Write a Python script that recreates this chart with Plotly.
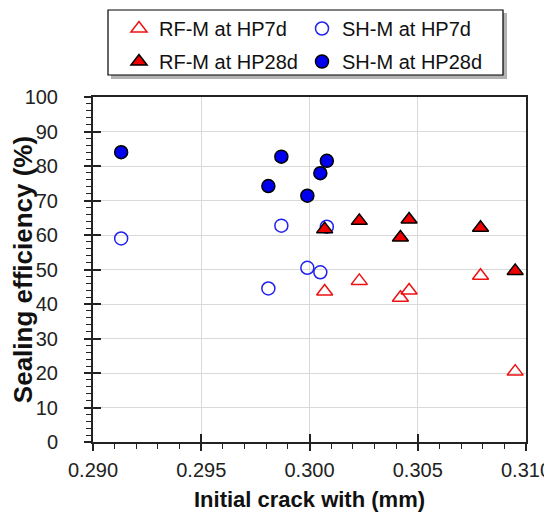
import plotly.graph_objects as go

# RF-M specimens
rf_x = [0.3007, 0.3023, 0.3046, 0.3042, 0.3079, 0.3095]
rf_7d = [43.6, 46.7, 43.9, 41.8, 48.2, 20.4]
rf_28d = [61.7, 64.1, 64.5, 59.3, 62.1, 49.6]

# SH-M specimens
sh_x = [0.2913, 0.2987, 0.3008, 0.2999, 0.3005, 0.2981]
sh_7d = [59.0, 62.7, 62.4, 50.5, 49.2, 44.5]
sh_28d = [84.0, 82.7, 81.5, 71.4, 77.9, 74.2]

x_ticks = [0.290, 0.295, 0.300, 0.305, 0.310]
y_ticks = [0, 10, 20, 30, 40, 50, 60, 70, 80, 90, 100]

RED = "#EE1111"
BLUE = "#2222EE"

OFF = 8  # default page body margin
W, H = 552 - OFF, 515 - OFF
L, T = 93 - OFF, 97 - OFF
R = W - (526 - OFF)
B = H - (442 - OFF)
PW, PH = W - L - R, H - T - B


def px_x(p):
    return (p - OFF - L) / PW


def px_y(p):
    return (H - B - (p - OFF)) / PH


fig = go.Figure()
fig.add_trace(go.Scatter(x=rf_x, y=rf_7d, mode="markers", name="RF-M at HP7d",
                         legend="legend", legendgroup="a",
                         marker=dict(symbol="triangle-up-open", size=14, color=RED,
                                     line=dict(color=RED, width=1.5))))
fig.add_trace(go.Scatter(x=sh_x, y=sh_7d, mode="markers", name="SH-M at HP7d",
                         legend="legend2", legendgroup="b",
                         marker=dict(symbol="circle-open", size=13, color=BLUE,
                                     line=dict(color=BLUE, width=1.5))))
fig.add_trace(go.Scatter(x=rf_x, y=rf_28d, mode="markers", name="RF-M at HP28d",
                         legend="legend", legendgroup="c",
                         marker=dict(symbol="triangle-up", size=14, color="#EE0000",
                                     line=dict(color="black", width=1.5))))
fig.add_trace(go.Scatter(x=sh_x, y=sh_28d, mode="markers", name="SH-M at HP28d",
                         legend="legend2", legendgroup="d",
                         marker=dict(symbol="circle", size=13, color="#0000EE",
                                     line=dict(color="black", width=1.5))))
# empty trace so the overlay axes (crossing major ticks) get drawn
fig.add_trace(go.Scatter(x=[], y=[], xaxis="x2", yaxis="y2", showlegend=False,
                         hoverinfo="skip"))

font = "Liberation Sans, Arial, sans-serif"
leg_common = dict(orientation="v", xanchor="left", yanchor="top", indentation=10,
                  bgcolor="rgba(0,0,0,0)", borderwidth=0, tracegroupgap=4,
                  font=dict(size=20, color="#111"), itemsizing="trace")
fig.update_layout(
    width=W, height=H,
    margin=dict(l=L, r=R, t=T, b=B, autoexpand=False),
    paper_bgcolor="white", plot_bgcolor="white",
    font=dict(family=font, size=20, color="#222"),
    showlegend=True,
    legend=dict(x=px_x(109), y=px_y(9), **leg_common),
    legend2=dict(x=px_x(292), y=px_y(9), **leg_common),
    xaxis=dict(range=[0.290, 0.310], tickvals=x_ticks, tickformat=".3f",
               showgrid=True, gridcolor="#D9D9D9", gridwidth=1,
               showline=True, linecolor="#222", linewidth=2, mirror=True,
               ticks="outside", ticklen=7, tickwidth=1.5, tickcolor="#222",
               ticklabelstandoff=2,
               minor=dict(dtick=0.001, ticks="outside", ticklen=5, tickcolor="#222",
                          tickwidth=1.2, showgrid=False),
               title=dict(text="<b>Initial crack with (mm)</b>", font=dict(size=22, color="#111"),
                          standoff=12),
               zeroline=False),
    yaxis=dict(range=[0, 100], tickvals=y_ticks,
               showgrid=True, gridcolor="#D9D9D9", gridwidth=1,
               showline=True, linecolor="#222", linewidth=2, mirror=True,
               ticks="outside", ticklen=7, tickwidth=1.5, tickcolor="#222",
               ticklabelstandoff=22,
               minor=dict(dtick=2, ticks="outside", ticklen=5, tickcolor="#222",
                          tickwidth=1.2, showgrid=False),
               title=dict(text="<b>Sealing efficiency (%)</b>", font=dict(size=26, color="#111"),
                          standoff=9),
               zeroline=False),
    xaxis2=dict(range=[0.290, 0.310], tickvals=x_ticks, overlaying="x", anchor="y",
                side="bottom", showticklabels=False, showgrid=False, ticks="inside",
                ticklen=8, tickwidth=1.5, tickcolor="#222", showline=False, zeroline=False),
    yaxis2=dict(range=[0, 100], tickvals=y_ticks, overlaying="y", anchor="x",
                side="left", showticklabels=False, showgrid=False, ticks="inside",
                ticklen=8, tickwidth=1.5, tickcolor="#222", showline=False, zeroline=False),
)

# legend frame with drop shadow (legend entries drawn on top)
fig.add_shape(type="rect", xref="paper", yref="paper", layer="above",
              x0=px_x(111), x1=px_x(507), y0=px_y(79), y1=px_y(13),
              line=dict(width=0), fillcolor="rgba(0,0,0,0.3)")
fig.add_shape(type="rect", xref="paper", yref="paper", layer="above",
              x0=px_x(108), x1=px_x(503), y0=px_y(75), y1=px_y(10),
              line=dict(width=1.2, color="black"), fillcolor="white")

fig.write_html("out.html")
